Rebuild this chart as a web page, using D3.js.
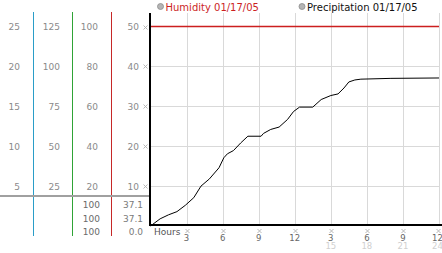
<!DOCTYPE html>
<html>
<head>
<meta charset="utf-8">
<script src="https://cdn.jsdelivr.net/npm/d3@7"></script>
<style>
  body { margin: 0; background: #fff; }
  svg { display: block; font-family: "DejaVu Sans", sans-serif; }
</style>
</head>
<body>
<svg id="chart"></svg>
<script>
// Precipitation (cumulative) by hour of day
const hours  = [0, 0.8, 1.5, 2.2, 2.9, 3.6, 4.2, 4.9, 5.7, 6.1, 6.4, 6.9, 7.5, 8.1, 9.2, 9.4, 10.0, 10.7, 11.4, 11.9, 12.4, 13.5, 14.2, 15.0, 15.6, 16.1, 16.5, 17.0, 17.5, 20.0, 24.0];
const precip = [0, 1.8, 2.8, 3.6, 5.2, 7.1, 10.0, 11.8, 14.6, 17.1, 18.1, 18.9, 20.8, 22.5, 22.5, 23.2, 24.2, 24.8, 26.7, 28.7, 29.8, 29.8, 31.7, 32.7, 33.1, 34.6, 36.1, 36.6, 36.8, 37.0, 37.1];

// Humidity, flat at 100%
const humHours = [0, 24];
const humidity = [100, 100];

// left-hand scale columns
const col1 = [5, 10, 15, 20, 25];
const col2 = [25, 50, 75, 100, 125];
const col3 = [20, 40, 60, 80, 100];
const col4 = [10, 20, 30, 40, 50];

// summary rows under the scales
const humStats = ["100", "100", "100"];
const precipStats = ["37.1", "37.1", "0.0"];

// x axis
const hourTicks = [3, 6, 9, 12, 15, 18, 21, 24];
const hourLabels = ["3", "6", "9", "12", "3", "6", "9", "12"];
const hourLabels2 = ["", "", "", "", "15", "18", "21", "24"];

const width = 442, height = 253;
const svg = d3.select("#chart").attr("width", width).attr("height", height);

const x = d3.scaleLinear().domain([0, 24]).range([150.5, 439]);
const y = d3.scaleLinear().domain([0, 50]).range([226, 26.5]);
const y1 = d3.scaleLinear().domain([0, 25]).range(y.range());
const y2 = d3.scaleLinear().domain([0, 125]).range(y.range());
const y3 = d3.scaleLinear().domain([0, 100]).range(y.range());
const y4 = y;

const plotTop = 13, axisY = 225;
const labelX = h => Math.min(x(h), 437.5);

// small hatch mark used for ticks
function hatch(g, cx, cy) {
    const p = `M${cx - 2},${cy - 2}L${cx + 2},${cy + 2}M${cx + 2},${cy - 2}L${cx - 2},${cy + 2}`;
    g.append("path").attr("d", p).attr("stroke", "#b0b0b0").attr("stroke-width", 0.9).attr("fill", "none");
}

// grid
const grid = svg.append("g").attr("shape-rendering", "crispEdges");
grid.selectAll("line.v")
    .data(hourTicks)
    .join("line")
    .attr("class", "v")
    .attr("x1", d => Math.round(x(d)) + 0.5)
    .attr("x2", d => Math.round(x(d)) + 0.5)
    .attr("y1", plotTop)
    .attr("y2", axisY)
    .attr("stroke", "#d9d9d9");
grid.selectAll("line.h")
    .data(col4.slice(0, 4))
    .join("line")
    .attr("class", "h")
    .attr("x1", 150)
    .attr("x2", x(24))
    .attr("y1", d => Math.round(y(d)) + 0.5)
    .attr("y2", d => Math.round(y(d)) + 0.5)
    .attr("stroke", "#d9d9d9");

// humidity line (red)
svg.append("path")
    .datum(humHours.map((h, i) => [h, humidity[i]]))
    .attr("fill", "none")
    .attr("stroke", "#cc1f1f")
    .attr("stroke-width", 1.3)
    .attr("d", d3.line().x(d => x(d[0])).y(d => y3(d[1])));

// precipitation curve
svg.append("path")
    .datum(hours.map((h, i) => [h, precip[i]]))
    .attr("fill", "none")
    .attr("stroke", "#000")
    .attr("stroke-width", 1)
    .attr("d", d3.line().x(d => x(d[0])).y(d => y(d[1])));

// left separator columns
const seps = [
    { x: 33, color: "#2a9dc8" },
    { x: 72, color: "#2fa336" },
    { x: 111, color: "#c62828" }
];
svg.append("g")
    .selectAll("rect")
    .data(seps)
    .join("rect")
    .attr("x", d => d.x).attr("width", 1)
    .attr("y", 12).attr("height", 224)
    .attr("fill", d => d.color);

// gray horizontal separator
svg.append("rect")
    .attr("x", 0).attr("y", 195)
    .attr("width", 150).attr("height", 2)
    .attr("fill", "#a0a0a0");

// axes
svg.append("rect").attr("x", 149).attr("y", plotTop).attr("width", 2).attr("height", axisY - plotTop + 1).attr("fill", "#000");
svg.append("rect").attr("x", 149).attr("y", axisY - 1).attr("width", width - 149).attr("height", 2).attr("fill", "#000");

// scale labels
const cols = [
    { vals: col1, scale: y1, xEnd: 20 },
    { vals: col2, scale: y2, xEnd: 60 },
    { vals: col3, scale: y3, xEnd: 98 },
    { vals: col4, scale: y4, xEnd: 139 }
];
cols.forEach(c => {
    svg.append("g")
        .selectAll("text")
        .data(c.vals)
        .join("text")
        .attr("x", c.xEnd)
        .attr("y", d => c.scale(d) + 3.5)
        .attr("text-anchor", "end")
        .attr("font-size", 9)
        .attr("fill", "#8a8a8a")
        .text(d => d);
});

// y-axis tick marks
const yt = svg.append("g");
col4.forEach(v => hatch(yt, 145.5, Math.round(y(v)) + 0.5));

// summary rows
const rowY = [207.5, 221.5, 235];
svg.append("g").selectAll("text")
    .data(humStats)
    .join("text")
    .attr("x", 100)
    .attr("y", (d, i) => rowY[i])
    .attr("text-anchor", "end")
    .attr("font-size", 9)
    .attr("fill", "#6a6a6a")
    .text(d => d);
svg.append("g").selectAll("text")
    .data(precipStats)
    .join("text")
    .attr("x", 143)
    .attr("y", (d, i) => rowY[i])
    .attr("text-anchor", "end")
    .attr("font-size", 9)
    .attr("fill", "#7a7a7a")
    .text(d => d);

// x-axis labels
svg.append("text")
    .attr("x", 154).attr("y", 235)
    .attr("font-size", 9)
    .attr("fill", "#555")
    .text("Hours");

const xl = svg.append("g");
hourTicks.forEach(h => hatch(xl, Math.round(labelX(h)) + 0.5, 231));
xl.selectAll("text.l1")
    .data(hourTicks)
    .join("text")
    .attr("class", "l1")
    .attr("x", d => labelX(d))
    .attr("y", 240.5)
    .attr("text-anchor", "middle")
    .attr("font-size", 8.5)
    .attr("fill", "#666")
    .text((d, i) => hourLabels[i]);
xl.selectAll("text.l2")
    .data(hourTicks)
    .join("text")
    .attr("class", "l2")
    .attr("x", d => labelX(d))
    .attr("y", 249)
    .attr("text-anchor", "middle")
    .attr("font-size", 8.5)
    .attr("fill", "#d0d0d0")
    .text((d, i) => hourLabels2[i]);

// legend
const legend = [
    { label: "Humidity 01/17/05", cx: 160.5, color: "#cc1f1f" },
    { label: "Precipitation 01/17/05", cx: 302, color: "#111" }
];
const lg = svg.append("g").selectAll("g").data(legend).join("g");
lg.append("circle")
    .attr("cx", d => d.cx).attr("cy", 6.5).attr("r", 3)
    .attr("fill", "#b5b5b5").attr("stroke", "#8c8c8c").attr("stroke-width", 0.8);
lg.append("text")
    .attr("x", d => d.cx + 5).attr("y", 10.5)
    .attr("font-size", 10)
    .attr("fill", d => d.color)
    .text(d => d.label);
</script>
</body>
</html>
